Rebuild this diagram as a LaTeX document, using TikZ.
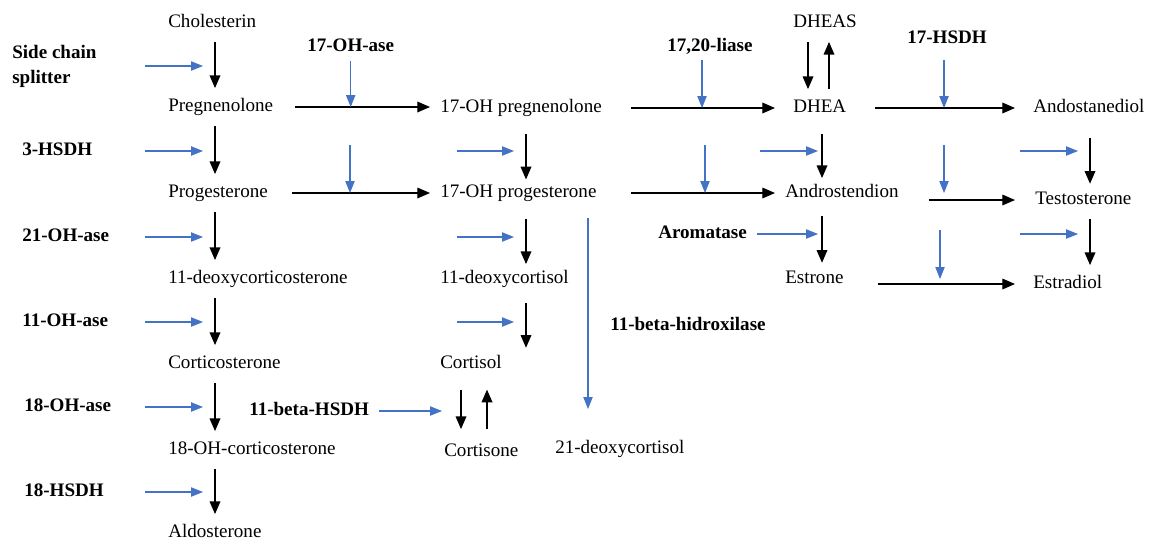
\documentclass[tikz,border=0pt]{standalone}
\usepackage{fontspec}
\setmainfont{Liberation Serif}
\newfontfamily\stfont{Liberation Serif}
\usetikzlibrary{arrows.meta,positioning}
\definecolor{enzBlue}{HTML}{4472C4}

\begin{document}
\begin{tikzpicture}[x=0.75pt, y=-0.75pt,
  txt/.style={anchor=west, inner xsep=7.5pt, inner ysep=7.5pt, font=\stfont\fontsize{14.3}{18.75}\selectfont},
  mol/.style={txt, text height=10pt, text depth=3pt},
  enzyme/.style={mol, font=\stfont\fontsize{14.3}{18.75}\selectfont\bfseries},
  flow/.style={-{Triangle[length=9.5pt,width=8pt]}, line width=0.95pt, draw=black},
  enz/.style={-{Triangle[length=9pt,width=7pt]}, line width=0.8pt, draw=enzBlue},
  tocol/.style={shorten >=9pt}
]
\useasboundingbox (0,0) rectangle (1151,540);
% columns of the reaction arrows
\coordinate (c1) at (215,0);
\coordinate (c2) at (526,0);
\coordinate (c3) at (822,0);
\coordinate (c4) at (1090,0);
\coordinate (c5) at (808,0);
\coordinate (c6) at (829,0);
\coordinate (c7) at (461,0);
\coordinate (c8) at (487,0);
\coordinate (c9) at (442,0);
% starts of the enzyme arrows
\coordinate (bl) at (145,0);
\coordinate (bm) at (457,0);
\coordinate (bd) at (760,0);
\coordinate (br) at (1020,0);
\coordinate (s1) at (350,145);
\coordinate (s2) at (702,60);
\coordinate (s3) at (705,145);
\coordinate (s4) at (944,60);
\coordinate (s5) at (944,145);
\coordinate (s6) at (940,230);
\coordinate (s7) at (588,218);

% mineralocorticoid line
\node[mol] (chol) at (158,23) {Cholesterin};
\node[mol] (preg) at (158,107) {Pregnenolone};
\node[mol] (prog) at (158,193) {Progesterone};
\node[mol] (docs) at (158,279) {11-deoxycorticosterone};
\node[mol] (cort) at (158,364) {Corticosterone};
\node[mol] (ohcort) at (158,450) {18-OH-corticosterone};
\node[mol] (aldo) at (158,533) {Aldosterone};
% glucocorticoid line
\node[mol] (ohpreg) at (430,108) {17-OH pregnenolone};
\node[mol] (ohprog) at (430,193) {17-OH progesterone};
\node[mol] (dcsol) at (430,279) {11-deoxycortisol};
\node[mol] (cortsol) at (430,364) {Cortisol};
\node[mol] (cortson) at (434,452) {Cortisone};
\node[mol] (dcsol21) at (545,449) {21-deoxycortisol};
% sex steroids
\node[mol] (dheas) at (783,23) {DHEAS};
\node[mol] (dhea) at (783,108) {DHEA};
\node[mol] (andro) at (775,193) {Androstendion};
\node[mol] (estrone) at (775,279) {Estrone};
\node[mol] (andiol) at (1023,108) {Andostanediol};
\node[mol] (testo) at (1025,200) {Testosterone};
\node[mol] (estdiol) at (1023,284) {Estradiol};

% enzymes
\node[txt, font=\stfont\fontsize{14.3}{18.75}\selectfont\bfseries, align=left] (scs) at (2,66) {Side chain\\splitter};
\node[enzyme] (hsd3) at (12,151) {3-HSDH};
\node[enzyme] (oh21) at (12,237) {21-OH-ase};
\node[enzyme] (oh11) at (12,322) {11-OH-ase};
\node[enzyme] (oh18) at (14,407) {18-OH-ase};
\node[enzyme] (hsd18) at (14,492) {18-HSDH};
\node[enzyme] (oh17) at (297,47) {17-OH-ase};
\node[enzyme] (lyase) at (657,47) {17,20-liase};
\node[enzyme] (hsd17) at (897,39) {17-HSDH};
\node[enzyme] (arom) at (648,234) {Aromatase};
\node[enzyme] (hid11) at (600,326) {11-beta-hidroxilase};
\node[enzyme] (hsd11b) at (239,411) {11-beta-HSDH};

% reactions
\draw[flow] (chol.south -| c1) -- (preg.north -| c1);
\draw[flow] (preg.south -| c1) -- (prog.north -| c1);
\draw[flow] (prog.south -| c1) -- (docs.north -| c1);
\draw[flow] (docs.south -| c1) -- (cort.north -| c1);
\draw[flow] (cort.south -| c1) -- (ohcort.north -| c1);
\draw[flow] (ohcort.south -| c1) -- (aldo.north -| c1);
\draw[flow, shorten <=5pt, shorten >=-4pt] (ohpreg.south -| c2) -- (ohprog.north -| c2);
\draw[flow, shorten <=5pt, shorten >=-3pt] (ohprog.south -| c2) -- (dcsol.north -| c2);
\draw[flow, shorten <=4pt, shorten >=-2pt] (dcsol.south -| c2) -- (cortsol.north -| c2);
\draw[flow, shorten <=5pt, shorten >=3pt] (cortsol.south -| c7) -- (cortson.north -| c7);
\draw[flow, shorten <=3pt, shorten >=5pt] (cortson.north -| c8) -- (cortsol.south -| c8);
\draw[flow] (dheas.south -| c5) -- (dhea.north -| c5);
\draw[flow] (dhea.north -| c6) -- (dheas.south -| c6);
\draw[flow, shorten <=5pt, shorten >=-3pt] (dhea.south -| c3) -- (andro.north -| c3);
\draw[flow, shorten <=3pt, shorten >=-2pt] (andro.south -| c3) -- (estrone.north -| c3);
\draw[flow, shorten <=8pt, shorten >=-2pt] (andiol.south -| c4) -- (testo.north -| c4);
\draw[flow] (testo.south -| c4) -- (estdiol.north -| c4);
\draw[flow, shorten <=9pt] (preg.east) -- (preg.east -| ohpreg.west);
\draw[flow, shorten <=10.5pt] (prog.east) -- (prog.east -| ohprog.west);
\draw[flow, shorten <=14pt, shorten >=6pt] (ohpreg.east) -- (ohpreg.east -| dhea.west);
\draw[flow, shorten <=18pt] (ohprog.east) -- (ohprog.east -| andro.west);
\draw[flow, shorten <=14pt, shorten >=6pt] (dhea.east) -- (dhea.east -| andiol.west);
\draw[flow, shorten <=15pt, shorten >=7.5pt] (andro.east |- testo) -- (testo.west);
\draw[flow, shorten <=18pt, shorten >=6pt] (estrone.east |- estdiol) -- (estdiol.west);

% enzyme arrows
\draw[enz, tocol] (scs -| bl) -- (scs -| c1);
\draw[enz, tocol] (hsd3 -| bl) -- (hsd3 -| c1);
\draw[enz, tocol] (oh21 -| bl) -- (oh21 -| c1);
\draw[enz, tocol] (oh11 -| bl) -- (oh11 -| c1);
\draw[enz, tocol] (oh18 -| bl) -- (oh18 -| c1);
\draw[enz, tocol] (hsd18 -| bl) -- (hsd18 -| c1);
\draw[enz, tocol] (hsd3 -| bm) -- (hsd3 -| c2);
\draw[enz, tocol] (oh21 -| bm) -- (oh21 -| c2);
\draw[enz, tocol] (oh11 -| bm) -- (oh11 -| c2);
\draw[enz] (hsd11b.east) -- (hsd11b -| c9);
\draw[enz, shorten >=3pt] (hsd3 -| bd) -- (hsd3 -| c3);
\draw[enz, shorten >=3pt] (arom.east) -- (arom -| c3);
\draw[enz, tocol] (hsd3 -| br) -- (hsd3 -| c4);
\draw[enz, tocol] (arom -| br) -- (arom -| c4);
\draw[enz, shorten <=-4pt] (oh17.south) -- (oh17.south |- preg);
\draw[enz] (s1) -- (s1 |- prog);
\draw[enz] (s2) -- (s2 |- ohpreg);
\draw[enz] (s3) -- (s3 |- ohprog);
\draw[enz] (s4) -- (s4 |- dhea);
\draw[enz] (s5) -- (s5 |- andro);
\draw[enz] (s6) -- (s6 |- estrone);
\draw[enz, shorten >=30pt] (s7) -- (s7 |- dcsol21);
\end{tikzpicture}
\end{document}
